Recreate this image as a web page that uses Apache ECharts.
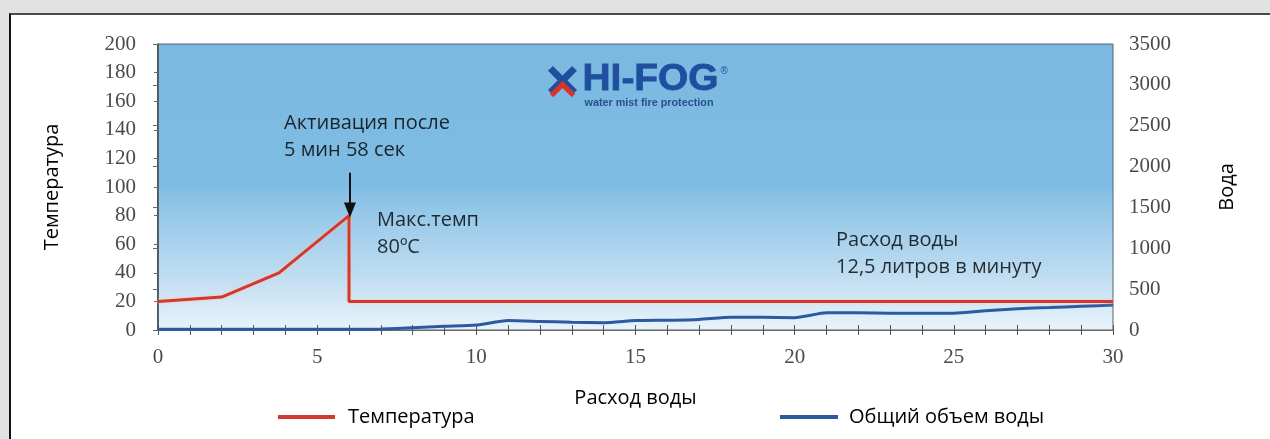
<!DOCTYPE html>
<html>
<head>
<meta charset="utf-8">
<script src="https://cdn.jsdelivr.net/npm/echarts@6/dist/echarts.min.js"></script>
<style>
  html, body { margin: 0; padding: 0; width: 1270px; height: 439px; overflow: hidden; background: #e1e2e4; }
  #frame { position: absolute; left: 9px; top: 13px; width: 1300px; height: 460px; background: #ffffff;
           border-left: 2px solid #111; border-top: 2px solid #4a4a4a; }
  #chart { position: absolute; left: 0; top: 0; width: 1270px; height: 439px; }
</style>
</head>
<body>
<div id="frame"></div>
<div id="chart"></div>
<script>
// Minutes on the x axis
const minuteTicks = [0, 5, 10, 15, 20, 25, 30];

// Temperature, °C  [minute, value]
const temperature = [
  [0, 20], [2, 23], [3.8, 40], [6, 80], [6, 20], [30, 20]
];

// Total water volume, litres  [minute, value]
const waterVolume = [
  [0, 8], [1, 8], [2, 8], [3, 8], [4, 8], [5, 8], [6, 8], [7, 12], [8, 28], [9, 45],
  [10, 60], [11, 115], [12, 105], [13, 95], [14, 90], [15, 115], [16, 120], [17, 130],
  [18, 155], [19, 155], [20, 150], [21, 210], [22, 210], [23, 205], [24, 205], [25, 205],
  [26, 235], [27, 260], [28, 275], [29, 290], [30, 305]
];

// Text notes anchored in (minute, °C) space
const notes = [
  [3.96, 135, 'Активация после\n5 мин 58 сек'],
  [6.88, 67, 'Макс.темп\n80ºC'],
  [21.3, 53, 'Расход воды\n12,5 литров в минуту']
];

// Activation arrow (minute, from °C, to °C)
const activationArrow = [6.03, 110, 84];

const seriesNames = ['Температура', 'Общий объем воды'];
const axisNames = { left: 'Температура', right: 'Вода', bottom: 'Расход воды' };

const sans = '"Open Sans", "Noto Sans", sans-serif';
const serif = '"Liberation Serif", "DejaVu Serif", serif';
const tickFont = { fontFamily: serif, fontSize: 21, color: '#4a4a4a' };

const chart = echarts.init(document.getElementById('chart'), null, { renderer: 'canvas' });

chart.setOption({
  backgroundColor: 'transparent',
  animation: false,
  grid: {
    left: 158, right: 157, top: 44, bottom: 109,
    show: true,
    borderColor: '#56646e', borderWidth: 1,
    backgroundColor: {
      type: 'linear', x: 0, y: 0, x2: 0, y2: 1,
      colorStops: [
        { offset: 0, color: '#7bb9e0' },
        { offset: 0.5, color: '#7fbce3' },
        { offset: 0.52, color: '#88c1e6' },
        { offset: 0.8, color: '#bddcf1' },
        { offset: 1, color: '#eaf4fb' }
      ]
    }
  },
  legend: [
    {
      left: 273, top: 402, data: [seriesNames[0]],
      icon: 'rect', itemWidth: 57, itemHeight: 4,
      textStyle: { fontFamily: sans, fontSize: 20, color: '#000', padding: [0, 0, 0, 8] }
    },
    {
      left: 775, top: 402, data: [seriesNames[1]],
      icon: 'rect', itemWidth: 58, itemHeight: 4,
      textStyle: { fontFamily: sans, fontSize: 20, color: '#000', padding: [0, 0, 0, 6] }
    }
  ],
  xAxis: [
    {
      type: 'value', min: 0, max: 30, interval: 1,
      name: axisNames.bottom, nameLocation: 'middle', nameGap: 58,
      nameTextStyle: { fontFamily: sans, fontSize: 20, color: '#000' },
      axisLine: { show: true, lineStyle: { color: '#6a6a6a', width: 1 } },
      axisTick: { show: true, length: 5, lineStyle: { color: '#555', width: 1 } },
      axisLabel: {
        ...tickFont, margin: 17,
        formatter: v => (minuteTicks.indexOf(v) >= 0 ? String(v) : '')
      },
      splitLine: { show: false }
    },
    {
      type: 'value', min: 0, max: 30, interval: 1, position: 'bottom',
      axisLine: { show: false },
      axisTick: { show: true, inside: true, length: 5, lineStyle: { color: '#555', width: 1 } },
      axisLabel: { show: false },
      splitLine: { show: false }
    }
  ],
  yAxis: [
    {
      type: 'value', min: 0, max: 200, interval: 20, position: 'left',
      name: axisNames.left, nameLocation: 'middle', nameGap: 96,
      nameTextStyle: { fontFamily: sans, fontSize: 20, color: '#000' },
      axisLine: { show: true, lineStyle: { color: '#2f3a44', width: 1.5 } },
      axisTick: { show: true, length: 4, lineStyle: { color: '#666' } },
      axisLabel: { ...tickFont, margin: 22 },
      splitLine: { show: false }
    },
    {
      type: 'value', min: 0, max: 3500, interval: 500, position: 'right',
      name: axisNames.right, nameLocation: 'middle', nameGap: 104,
      nameTextStyle: { fontFamily: sans, fontSize: 20, color: '#000' },
      axisLine: { show: true, lineStyle: { color: '#56646e', width: 1 } },
      axisTick: { show: true, inside: true, length: 5, lineStyle: { color: '#666' } },
      axisLabel: { ...tickFont, margin: 16, formatter: v => String(v) },
      splitLine: { show: false }
    }
  ],
  series: [
    {
      name: seriesNames[1], type: 'line', xAxisIndex: 0, yAxisIndex: 1,
      data: waterVolume, showSymbol: false, symbol: 'none', smooth: 0.2,
      color: '#2c5aa0',
      lineStyle: { color: '#2c5aa0', width: 3 },
      z: 3
    },
    {
      name: seriesNames[0], type: 'line', xAxisIndex: 0, yAxisIndex: 0,
      data: temperature, showSymbol: false, symbol: 'none',
      color: '#d1392c',
      lineStyle: { color: '#d1392c', width: 3, shadowColor: 'rgba(255,190,180,0.9)', shadowBlur: 3 },
      z: 4,
      markLine: {
        silent: true, animation: false,
        symbol: ['none', 'triangle'], symbolSize: [12, 15],
        lineStyle: { color: '#111', width: 2, type: 'solid' },
        label: { show: false },
        data: [[
          { coord: [activationArrow[0], activationArrow[1]] },
          { coord: [activationArrow[0], activationArrow[2]] }
        ]]
      }
    },
    {
      name: 'notes', type: 'scatter', xAxisIndex: 0, yAxisIndex: 0,
      data: notes, symbolSize: 0, silent: true,
      itemStyle: { color: 'transparent' },
      label: {
        show: true, position: 'right', distance: 0,
        align: 'left', verticalAlign: 'middle',
        fontFamily: sans, fontSize: 20, lineHeight: 27, color: '#000',
        formatter: p => p.data[2]
      },
      z: 5
    }
  ],
  graphic: [
    {
      type: 'group', left: 548, top: 62, silent: true,
      children: [
        // blue cross of the logo mark
        { type: 'rect', shape: { x: -3.5, y: -17, width: 7, height: 34 }, x: 14, y: 15, rotation: Math.PI / 4, style: { fill: '#1f4f9e' } },
        { type: 'rect', shape: { x: -3.5, y: -17, width: 7, height: 34 }, x: 14, y: 15, rotation: -Math.PI / 4, style: { fill: '#1f4f9e' } },
        // red chevron
        { type: 'polyline', shape: { points: [[3, 30], [14, 19], [25, 30]] }, style: { stroke: '#d9342b', lineWidth: 5, fill: null } },
        { type: 'text', x: 34, y: -3, scaleX: 1.08, style: { text: 'HI-FOG', fontFamily: '"Liberation Sans", Arial, sans-serif', fontWeight: 'bold', fontSize: 36, fill: '#1f4f9e', stroke: '#1f4f9e', lineWidth: 0.8 } },
        { type: 'text', x: 172, y: 1, style: { text: '®', fontFamily: '"Liberation Sans", Arial, sans-serif', fontSize: 10, fill: '#1f4f9e' } },
        { type: 'text', x: 36, y: 33, scaleX: 1.08, style: { text: 'water mist fire protection', fontFamily: '"Liberation Sans", Arial, sans-serif', fontWeight: 'bold', fontSize: 10, fill: '#2a4f8e' } }
      ]
    }
  ]
});
</script>
</body>
</html>
